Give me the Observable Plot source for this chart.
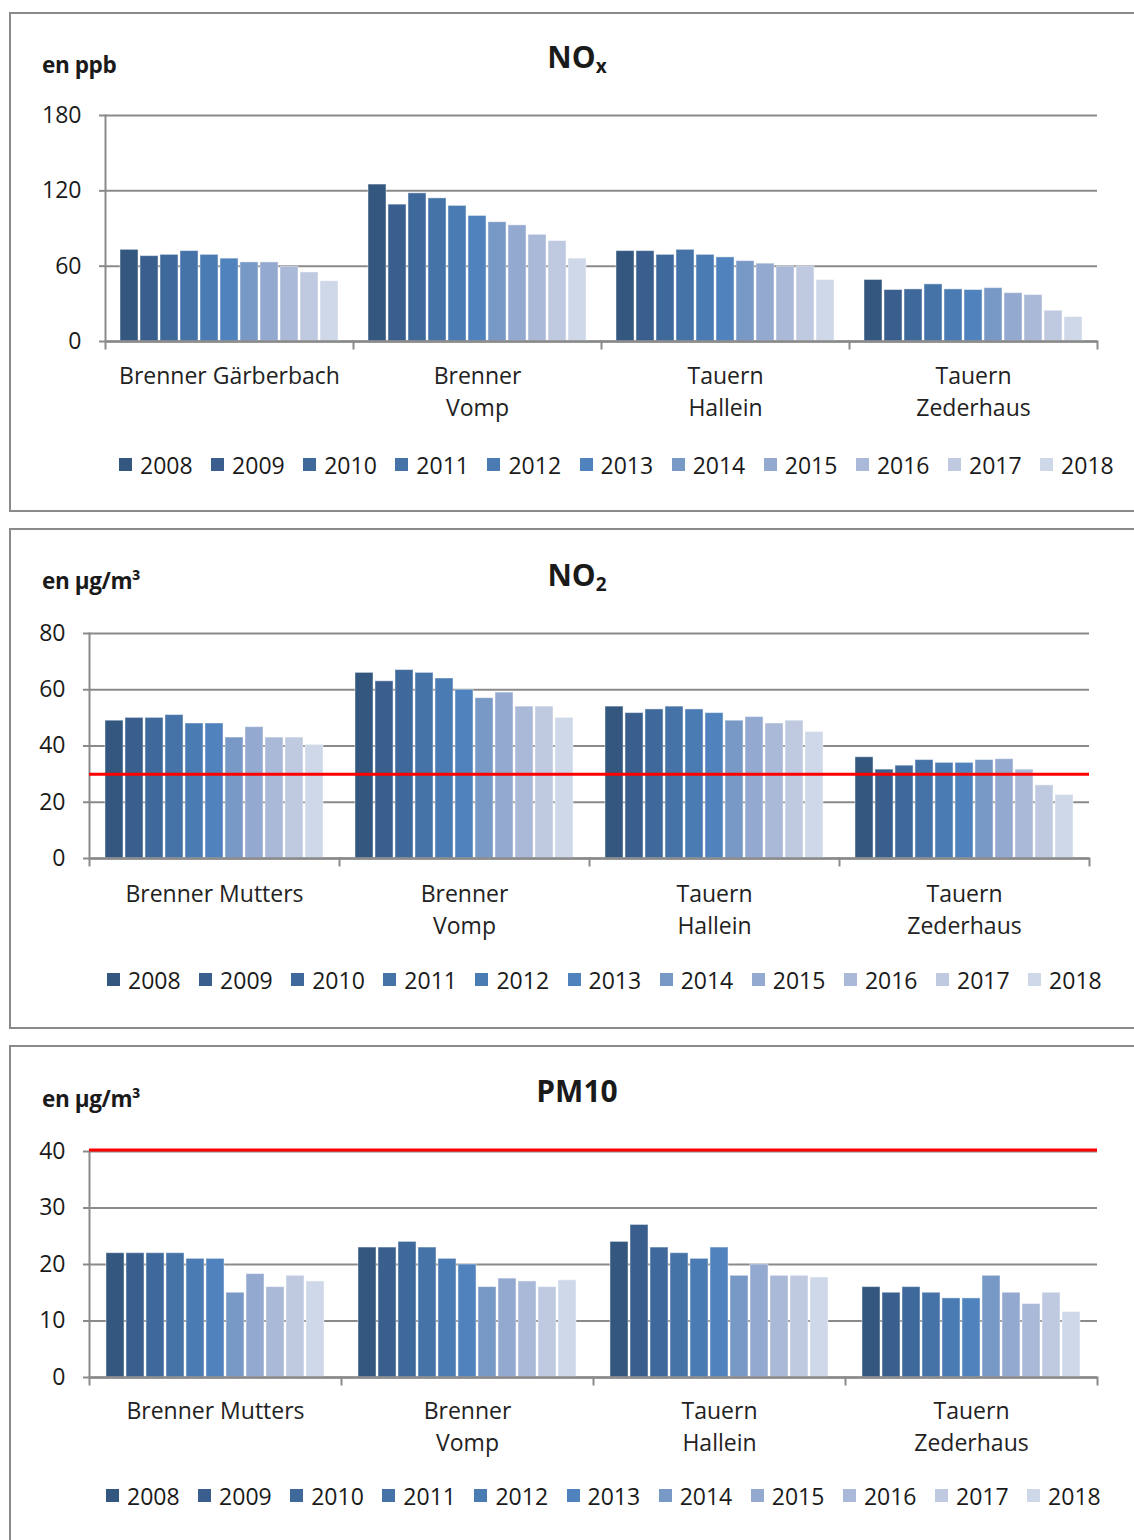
<!DOCTYPE html>
<html>
<head>
<meta charset="utf-8">
<script src="https://cdn.jsdelivr.net/npm/d3@7"></script>
<script src="https://cdn.jsdelivr.net/npm/@observablehq/plot@0.6"></script>
<style>
  html, body { margin: 0; padding: 0; background: #fff; }
  body { width: 1134px; height: 1540px; overflow: hidden; position: relative; font-family: "Open Sans", sans-serif; color: #1a1a1a; }
  .panel { position: absolute; left: 9px; width: 1200px; border: 2px solid #8a8a8a; box-sizing: border-box; }
  .ylab { position: absolute; left: 42px; font-weight: bold; font-size: 22.5px; line-height: 26px; letter-spacing: -0.4px; }
  .title { position: absolute; left: 477px; width: 200px; text-align: center; font-weight: bold; font-size: 30px; line-height: 34px; }
  .title sub { font-size: 19px; vertical-align: -5px; line-height: 0; }
  .chart { position: absolute; left: 0; }
  .leg { position: absolute; line-height: 30px; }
  .lg-swatch { margin-right: 18.5px !important; }
  .lg-swatch > svg { margin-right: 8px !important; }
</style>
</head>
<body>
<div class="panel" style="top:12px;height:500px"></div>
<div class="panel" style="top:528px;height:501px"></div>
<div class="panel" style="top:1045px;height:520px"></div>

<div class="ylab" style="top:52px">en ppb</div>
<div class="title" style="top:40px">NO<sub>x</sub></div>
<div class="ylab" style="top:568px">en µg/m³</div>
<div class="title" style="top:558px">NO<sub>2</sub></div>
<div class="ylab" style="top:1086px">en µg/m³</div>
<div class="title" style="top:1074px">PM10</div>

<div id="c1" class="chart" style="top:100px"></div>
<div id="c2" class="chart" style="top:620px"></div>
<div id="c3" class="chart" style="top:1135px"></div>
<div id="l1" class="leg" style="left:119px;top:448px"></div>
<div id="l2" class="leg" style="left:107px;top:963px"></div>
<div id="l3" class="leg" style="left:106px;top:1479px"></div>

<script>
// ---------- data ----------
const years = ["2008","2009","2010","2011","2012","2013","2014","2015","2016","2017","2018"];
const yearColors = ["#33577f","#3a5f8e","#3f699b","#4573a7","#4a7bb3","#5083bd","#7898c6","#94a9d0","#abb9d8","#bfcae1","#ced8e8"];

const noxStations = ["Brenner Gärberbach", "Brenner\nVomp", "Tauern\nHallein", "Tauern\nZederhaus"];
const no2Stations = ["Brenner Mutters", "Brenner\nVomp", "Tauern\nHallein", "Tauern\nZederhaus"];
const pm10Stations = ["Brenner Mutters", "Brenner\nVomp", "Tauern\nHallein", "Tauern\nZederhaus"];

const noxGaerberbach = [73, 68, 69, 72, 69, 66, 63, 63, 59.5, 55, 48];
const noxVomp        = [125, 109, 118, 114, 108, 100, 95, 92.5, 85, 80, 66];
const noxHallein     = [72, 72, 69, 73, 69, 67, 64, 62, 59.8, 59.8, 49];
const noxZederhaus   = [49, 41, 41.5, 45.5, 41.5, 41, 42.5, 38.5, 37, 24.5, 19.5];

const no2Mutters     = [49, 50, 50, 51, 48, 48, 43, 46.7, 43, 43, 40.4];
const no2Vomp        = [66, 63, 67, 66, 64, 60, 57, 59, 54, 54, 50];
const no2Hallein     = [54, 51.7, 53, 54, 53, 51.7, 49, 50.3, 48, 49, 45];
const no2Zederhaus   = [36, 31.6, 33, 35, 34, 34, 35, 35.3, 31.6, 26, 22.6];

const pm10Mutters    = [22, 22, 22, 22, 21, 21, 15, 18.3, 16, 18, 17];
const pm10Vomp       = [23, 23, 24, 23, 21, 20, 16, 17.5, 17, 16, 17.2];
const pm10Hallein    = [24, 27, 23, 22, 21, 23, 18, 20, 18, 18, 17.7];
const pm10Zederhaus  = [16, 15, 16, 15, 14, 14, 18, 15, 13, 15, 11.6];

const noxTicks = [0, 60, 120, 180];
const no2Ticks = [0, 20, 40, 60, 80];
const pm10Ticks = [0, 10, 20, 30, 40];

const no2Limit = [30];
const pm10Limit = [40];

// ---------- helpers ----------
function toRows(stations, series) {
  const rows = [];
  stations.forEach((s, i) => series[i].forEach((v, j) => rows.push({station: s, year: years[j], value: v})));
  return rows;
}

const GRID = "#8a8a8a";
const FONT = "Open Sans";

function chart({rows, stations, ticks, limit, marginLeft, marginRight, marginTop, marginBottom, labelDy, limitDy = 0}) {
  const height = 330;
  const plotH = height - marginTop - marginBottom;
  const marks = [
    Plot.gridY({ticks, stroke: GRID, strokeOpacity: 1, strokeWidth: 2}),
    Plot.barY(rows, {fx: "station", x: "year", y: "value", fill: "year", stroke: "#ffffff", strokeOpacity: 0.45, strokeWidth: 1}),
    Plot.ruleY([0], {stroke: GRID, strokeWidth: 2.5}),
    Plot.frame({anchor: "left", facet: "super", stroke: GRID, strokeWidth: 2, insetBottom: -7}),
    Plot.frame({anchor: "right", stroke: GRID, strokeWidth: 2, insetTop: plotH, insetBottom: -7}),
    Plot.axisY({ticks, label: null, tickSize: 6, tickPadding: 18, stroke: GRID, strokeWidth: 2, fill: "#1a1a1a", fontSize: 23, tickFormat: d => String(d)}),
    Plot.text(stations, {fx: d => d, text: d => d, frameAnchor: "bottom", lineAnchor: "top", dy: labelDy, lineHeight: 1.38, fontSize: 23, fill: "#222"})
  ];
  if (limit) marks.push(Plot.ruleY(limit, {stroke: "#ff0000", strokeWidth: 3, dy: limitDy}));
  return Plot.plot({
    width: 1134, height, marginLeft, marginRight, marginTop, marginBottom,
    style: {fontFamily: FONT, fontSize: "23px", background: "transparent", overflow: "visible"},
    fx: {domain: stations, padding: 0, axis: null, label: null},
    x: {domain: years, paddingInner: 0.12, paddingOuter: 0.75, axis: null},
    y: {domain: [0, ticks[ticks.length - 1]], axis: null, label: null},
    color: {domain: years, range: yearColors},
    marks
  });
}

function legend() {
  return Plot.legend({
    color: {type: "ordinal", domain: years, range: yearColors},
    legend: "swatches", swatchSize: 13, className: "lg",
    style: {fontFamily: FONT, fontSize: "23px", color: "#1a1a1a", margin: "0"}
  });
}

document.getElementById("c1").append(chart({
  rows: toRows(noxStations, [noxGaerberbach, noxVomp, noxHallein, noxZederhaus]),
  stations: noxStations, ticks: noxTicks, marginLeft: 104, marginRight: 37, marginTop: 15, marginBottom: 89, labelDy: 20
}));
document.getElementById("c2").append(chart({
  rows: toRows(no2Stations, [no2Mutters, no2Vomp, no2Hallein, no2Zederhaus]),
  stations: no2Stations, ticks: no2Ticks, limit: no2Limit, marginLeft: 89, marginRight: 45, marginTop: 13, marginBottom: 92, labelDy: 21
}));
document.getElementById("c3").append(chart({
  rows: toRows(pm10Stations, [pm10Mutters, pm10Vomp, pm10Hallein, pm10Zederhaus]),
  stations: pm10Stations, ticks: pm10Ticks, limit: pm10Limit, limitDy: -1.5, marginLeft: 89, marginRight: 37, marginTop: 16, marginBottom: 88, labelDy: 19
}));
document.getElementById("l1").append(legend());
document.getElementById("l2").append(legend());
document.getElementById("l3").append(legend());
</script>
</body>
</html>
